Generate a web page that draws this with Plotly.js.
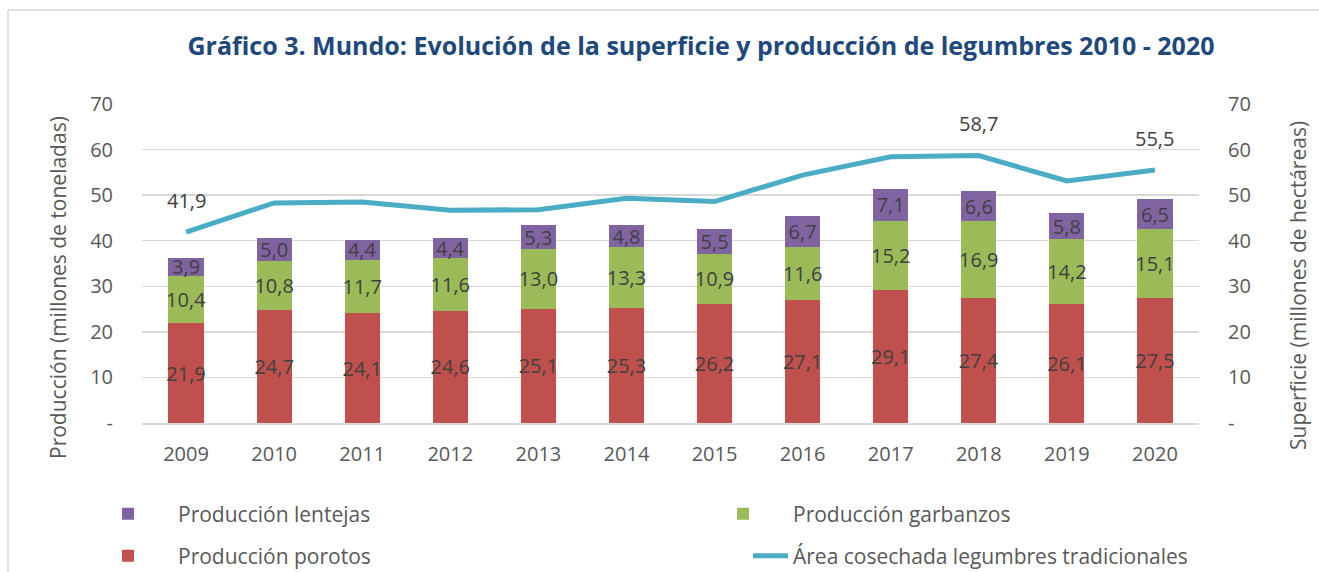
<!DOCTYPE html>
<html>
<head>
<meta charset="utf-8">
<script src="https://cdn.plot.ly/plotly-3.0.1.min.js"></script>
<style>html,body{margin:0;padding:0;background:#fff;overflow:hidden;}#chart{width:1319px;height:572px;}</style>
</head>
<body>
<div id="chart"></div>
<script>
const years = ['2009','2010','2011','2012','2013','2014','2015','2016','2017','2018','2019','2020'];
const porotos = [21.9,24.7,24.1,24.6,25.1,25.3,26.2,27.1,29.1,27.4,26.1,27.5];
const garbanzos = [10.4,10.8,11.7,11.6,13.0,13.3,10.9,11.6,15.2,16.9,14.2,15.1];
const lentejas = [3.9,5.0,4.4,4.4,5.3,4.8,5.5,6.7,7.1,6.6,5.8,6.5];
const area = [41.9,48.3,48.5,46.7,46.8,49.3,48.6,54.4,58.4,58.7,53.1,55.5];
const areaLabelIdx = [0,9,11];
const yTickVals = [0,10,20,30,40,50,60,70];
const yTickText = ['-','10','20','30','40','50','60','70'];

const FONT = '"Open Sans", "Noto Sans", sans-serif';
const GREY = '#595959';
const LBL = '#404040';

function barTrace(name, vals, color, legend){
  return {
    type:'bar', name:name, x:years, y:vals,
    marker:{color:color, line:{width:0}},
    width:0.4,
    texttemplate:'%{y:.1f}', textposition:'inside', insidetextanchor:'middle',
    constraintext:'none', textangle:0,
    textfont:{family:FONT, size:20, color:LBL},
    hoverinfo:'skip', legend:legend
  };
}

const traces = [
  barTrace('Producción porotos', porotos, '#C0504D', 'legend3'),
  barTrace('Producción garbanzos', garbanzos, '#9BBB59', 'legend2'),
  barTrace('Producción lentejas', lentejas, '#8064A2', 'legend'),
  {
    type:'scatter', mode:'lines', name:'Área cosechada legumbres tradicionales',
    x:years, y:area, yaxis:'y2',
    line:{color:'#4BACC6', width:5}, hoverinfo:'skip', legend:'legend4'
  }
];

const annotations = areaLabelIdx.map(i => ({
  x: i, y: area[i], xref:'x', yref:'y2',
  text: area[i].toFixed(1).replace('.', ','), showarrow:false, yshift:32,
  font:{family:FONT, size:20, color:LBL}
}));
annotations.push({
  text:'Producción (millones de toneladas)', textangle:-90, showarrow:false,
  xref:'paper', yref:'paper', x:(58-142)/1057, y:(423-288)/319,
  xanchor:'center', yanchor:'middle', font:{family:FONT, size:21, color:GREY}
});
annotations.push({
  text:'Superficie (millones de hectáreas)', textangle:-90, showarrow:false,
  xref:'paper', yref:'paper', x:(1298-142)/1057, y:(423-286)/319,
  xanchor:'center', yanchor:'middle', font:{family:FONT, size:21, color:GREY}
});

function leg(xpx, ypx, iw){
  return {orientation:'h', xref:'container', yref:'container', xanchor:'left', yanchor:'middle',
    x:xpx/1319, y:1-ypx/572, itemwidth:iw,
    font:{family:FONT, size:21, color:GREY}, bgcolor:'rgba(0,0,0,0)'};
}

const layout = {
  width:1319, height:572,
  margin:{l:142, r:120, t:104, b:149},
  paper_bgcolor:'#fff', plot_bgcolor:'#fff',
  separators:',.',
  barmode:'stack',
  showlegend:true,
  title:{text:'<b>Gráfico 3. Mundo: Evolución de la superficie y producción de legumbres 2010 - 2020</b>',
    font:{family:FONT, size:25, color:'#1F497D'}, xref:'container', yref:'container',
    x:701/1319, xanchor:'center', y:1-46/572, yanchor:'middle'},
  xaxis:{type:'category', range:[-0.5,11.5], autorange:false, showgrid:false, showline:true,
    linecolor:'#D9D9D9', linewidth:1.5,
    ticks:'', tickfont:{family:FONT, size:20, color:GREY}, ticklabelstandoff:12},
  yaxis:{range:[0,70], autorange:false, tickvals:yTickVals, ticktext:yTickText, showgrid:true, gridcolor:'#D9D9D9', gridwidth:1.5,
    zeroline:false, showline:false, ticks:'', tickfont:{family:FONT, size:20, color:GREY}, ticklabelstandoff:28},
  yaxis2:{range:[0,70], autorange:false, tickvals:yTickVals, ticktext:yTickText, overlaying:'y', side:'right', showgrid:false,
    zeroline:false, showline:false, ticks:'', tickfont:{family:FONT, size:20, color:GREY}, ticklabelstandoff:28},
  legend:leg(78, 514, 90),
  legend2:leg(693, 514, 90),
  legend3:leg(78, 556, 90),
  legend4:leg(748, 556, 35),
  annotations:annotations,
  shapes:[
    {type:'line', xref:'paper', yref:'paper', x0:(8-142)/1057, x1:(1420-142)/1057,
      y0:(423-10)/319, y1:(423-10)/319, line:{color:'#D9D9D9', width:1.5}, layer:'below'},
    {type:'line', xref:'paper', yref:'paper', x0:(8-142)/1057, x1:(8-142)/1057,
      y0:(423-10)/319, y1:(423-650)/319, line:{color:'#D9D9D9', width:1.5}, layer:'below'}
  ]
};

Plotly.newPlot('chart', traces, layout, {displayModeBar:false, staticPlot:true});
</script>
</body>
</html>
